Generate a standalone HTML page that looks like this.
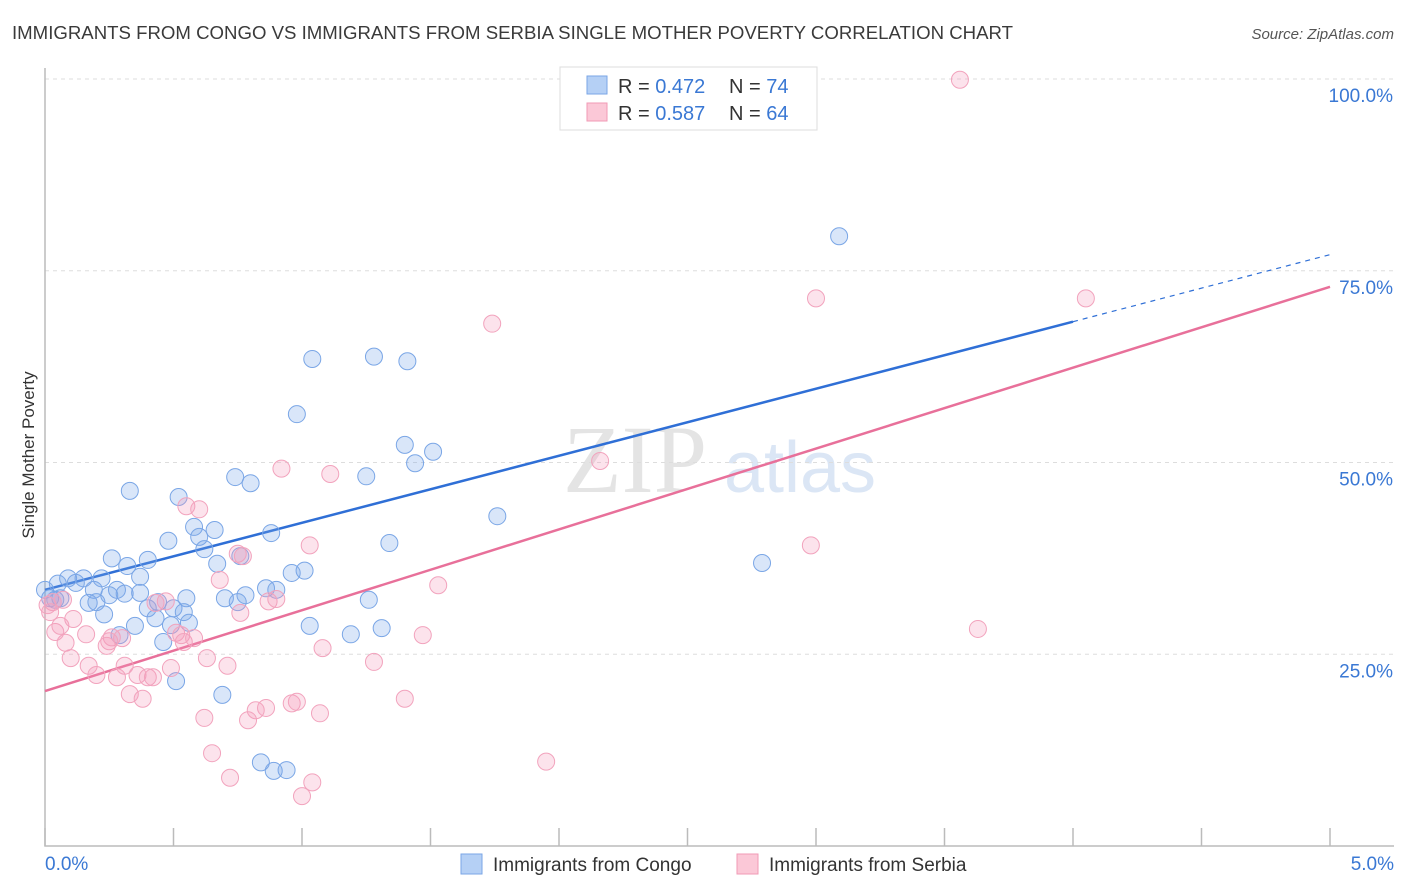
<!DOCTYPE html>
<html><head><meta charset="utf-8"><style>
body{margin:0;background:#fff;font-family:"Liberation Sans",sans-serif}
svg{display:block}
</style></head><body>
<svg id="chart" width="1406" height="892" xmlns="http://www.w3.org/2000/svg">
<text x="12" y="39" font-size="18" fill="#3a3a3a" textLength="1001" lengthAdjust="spacingAndGlyphs">IMMIGRANTS FROM CONGO VS IMMIGRANTS FROM SERBIA SINGLE MOTHER POVERTY CORRELATION CHART</text>
<text x="1394" y="39" font-size="15" fill="#555" font-style="italic" text-anchor="end">Source: ZipAtlas.com</text>
<text x="34" y="455" font-size="17" fill="#333" text-anchor="middle" transform="rotate(-90 34 455)">Single Mother Poverty</text>
<g><text x="635" y="492" font-size="96" fill="#e4e4e4" font-family="Liberation Serif" text-anchor="middle">ZIP</text><text x="800" y="492" font-size="72" fill="#dbe6f5" text-anchor="middle">atlas</text></g>
<g id="grid"></g><g id="axes"></g><g id="lines"></g><g id="pts"></g>
<g>
<rect x="560" y="67" width="257" height="63" fill="#fff" stroke="#ddd"/>
<rect x="587" y="76" width="20" height="18" fill="#b5d0f5" stroke="#7aa6e6"/>
<text x="618" y="93" font-size="20" fill="#333">R = <tspan fill="#3a78d4">0.472</tspan></text>
<text x="729" y="93" font-size="20" fill="#333">N = <tspan fill="#3a78d4">74</tspan></text>
<rect x="587" y="103" width="20" height="18" fill="#fbc8d7" stroke="#f09ab5"/>
<text x="618" y="120" font-size="20" fill="#333">R = <tspan fill="#3a78d4">0.587</tspan></text>
<text x="729" y="120" font-size="20" fill="#333">N = <tspan fill="#3a78d4">64</tspan></text>
</g>
<g>
<rect x="461" y="854" width="21" height="20" fill="#b5d0f5" stroke="#7aa6e6"/>
<text x="493" y="871" font-size="19" fill="#333">Immigrants from Congo</text>
<rect x="737" y="854" width="21" height="20" fill="#fbc8d7" stroke="#f09ab5"/>
<text x="769" y="871" font-size="19" fill="#333">Immigrants from Serbia</text>
</g>
</svg>
<script>
const yTicks=[25,50,75,100];
const yTickLabels=["25.0%","50.0%","75.0%","100.0%"];
const xTickLabels=["0.0%","5.0%"];
const congoX=[3.09,1.28,1.04,1.41,0.98,1.40,1.51,1.44,1.25,0.74,0.80,0.33,0.52,1.76,0.58,0.66,0.48,0.60,1.34,0.88,0.62,0.26,0.40,0.32,0.67,0.76,2.79,1.01,0.96,0.37,0.09,0.15,0.22,0.05,0.12,0.19,0.28,0.31,0.25,0.37,0.86,0.90,0.78,0.55,0.70,0.44,1.26,0.04,0.17,0.20,0.40,0.50,0.54,0.75,0.23,0.43,0.56,1.03,0.49,0.35,1.31,1.19,0.29,0.46,0.51,0.69,0.84,0.94,0.89,0.02,0.00,0.06];
const congoY=[79.5,63.8,63.5,63.2,56.3,52.3,51.4,49.9,48.2,48.1,47.3,46.3,45.5,43.0,41.6,41.2,39.8,40.3,39.5,40.8,38.7,37.5,37.3,36.5,36.8,37.8,36.9,35.9,35.6,35.1,34.9,34.9,34.9,34.2,34.3,33.4,33.4,32.9,32.7,33.0,33.6,33.4,32.7,32.3,32.3,31.8,32.1,32.1,31.7,31.8,31.0,31.0,30.5,31.8,30.2,29.7,29.1,28.7,28.8,28.7,28.4,27.6,27.5,26.6,21.5,19.7,10.9,9.9,9.8,32.3,33.4,32.3];
const serbiaX=[3.56,3.00,4.05,1.74,2.16,0.92,1.11,0.55,0.60,2.98,1.03,0.75,0.77,0.68,1.53,0.47,0.43,0.03,0.07,0.01,0.87,0.90,0.76,0.02,0.11,0.51,0.53,3.63,1.47,0.16,0.26,0.30,0.54,0.58,0.25,0.08,0.24,1.08,0.10,0.63,0.71,1.28,0.17,0.31,0.49,0.20,0.36,0.28,0.40,0.42,0.33,0.38,1.40,0.96,0.98,0.86,0.82,0.62,1.07,0.79,0.65,1.95,0.72,1.04,1.00,0.04,0.06];
const serbiaY=[99.9,71.4,71.4,68.1,50.2,49.2,48.5,44.3,43.9,39.2,39.2,38.1,37.8,34.7,34.0,31.9,31.7,31.8,32.1,31.4,31.9,32.2,30.4,30.5,29.6,27.8,27.5,28.3,27.5,27.6,27.2,27.1,26.6,27.1,26.7,26.5,26.1,25.8,24.5,24.5,23.5,24.0,23.5,23.5,23.2,22.3,22.3,22.0,22.0,22.0,19.8,19.2,19.2,18.6,18.8,18.0,17.7,16.7,17.3,16.4,12.1,11.0,8.9,8.3,6.5,27.9,28.7];
const congoTrend=[33.4,77.1];
const serbiaTrend=[20.2,72.9];
const NS="http://www.w3.org/2000/svg";
const X=v=>45+v/5*1285, Y=v=>846-v*7.67;
function mk(t,a,p){const e=document.createElementNS(NS,t);for(const k in a)e.setAttribute(k,a[k]);p.appendChild(e);return e;}
const grid=document.getElementById('grid'),axes=document.getElementById('axes'),lines=document.getElementById('lines'),pts=document.getElementById('pts');
yTicks.forEach((t,i)=>{
 const l=mk('line',{x1:45,x2:1394,y1:Y(t),y2:Y(t),stroke:'#ddd','stroke-dasharray':'4,4'},grid);
 
 
 const tx=mk('text',{x:1393,y:Y(t)+23,'font-size':19,fill:'#3a78d4','text-anchor':'end'},grid);
 tx.textContent=yTickLabels[i];
 
 
});
const ax=mk('path',{d:'M45 68V846H1394',fill:'none',stroke:'#bbb','stroke-width':1.5},axes);


for(let i=0;i<=10;i++){const t=mk('line',{x1:X(i*0.5),x2:X(i*0.5),y1:828,y2:846,stroke:'#bbb','stroke-width':1.5},axes);
 
 }
[[0,'start',45],[1,'end',1394]].forEach(([i,a,x])=>{const t=mk('text',{x:x,y:870,'font-size':19,fill:'#3a78d4','text-anchor':a},axes);t.textContent=xTickLabels[i];
 
 });
function draw(xs,ys,fill,stroke,name){xs.forEach((v,i)=>{const c=mk('circle',{cx:X(v),cy:Y(ys[i]),r:8.5,fill:fill,stroke:stroke,'stroke-width':1},pts);
 
 });}
draw(congoX,congoY,'rgba(120,165,235,0.28)','#7aa6e6','congo-point');
draw(serbiaX,serbiaY,'rgba(245,155,185,0.28)','#f2a3bd','serbia-point');
const bxEnd=4.0, byEnd=congoTrend[0]+(congoTrend[1]-congoTrend[0])*bxEnd/5;
let l1=mk('line',{x1:X(0),y1:Y(congoTrend[0]),x2:X(bxEnd),y2:Y(byEnd),stroke:'#2f6fd6','stroke-width':2.5},lines);


let l2=mk('line',{x1:X(bxEnd),y1:Y(byEnd),x2:X(5),y2:Y(congoTrend[1]),stroke:'#2f6fd6','stroke-width':1.2,'stroke-dasharray':'5,5'},lines);


let l3=mk('line',{x1:X(0),y1:Y(serbiaTrend[0]),x2:X(5),y2:Y(serbiaTrend[1]),stroke:'#e8709a','stroke-width':2.5},lines);


</script>
</body></html>
